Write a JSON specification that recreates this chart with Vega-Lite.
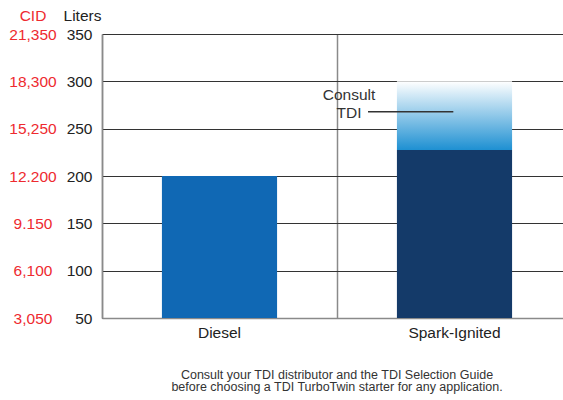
{
  "$schema": "https://vega.github.io/schema/vega-lite/v6.json",
  "width": 470,
  "height": 284,
  "autosize": {"type": "none"},
  "padding": {"left": 102, "top": 34, "right": 0, "bottom": 82},
  "config": {"font": "Liberation Sans", "view": {"stroke": null}},
  "title": {
    "text": ["Consult your TDI distributor and the TDI Selection Guide", "before choosing a TDI TurboTwin starter for any application."],
    "orient": "bottom", "anchor": "middle", "frame": "group",
    "fontSize": 12.5, "fontWeight": "normal", "color": "#333333", "lineHeight": 12.5, "offset": 28
  },
  "datasets": {
    "bars": [
      {"engine": "Diesel", "segment": "base", "low": 50, "high": 200},
      {"engine": "Spark-Ignited", "segment": "base", "low": 50, "high": 227.5},
      {"engine": "Spark-Ignited", "segment": "consult", "low": 227.5, "high": 300}
    ],
    "notes": [
      {"label": "Consult", "pos": 1.051, "val": 280.3},
      {"label": "TDI", "pos": 1.051, "val": 261.3}
    ],
    "leader": [{"from": 1.132, "to": 1.495, "val": 267.9}]
  },
  "layer": [
    {
      "data": {"name": "bars"},
      "transform": [{"filter": "datum.segment === 'base'"}],
      "mark": {"type": "bar", "width": {"band": 0.49}},
      "encoding": {
        "x": {
          "field": "engine", "type": "nominal",
          "scale": {"domain": ["Diesel", "Spark-Ignited"], "paddingInner": 0, "paddingOuter": 0},
          "axis": {
            "title": null, "labelAngle": 0, "labelFontSize": 15.5, "labelColor": "#222222", "labelPadding": 7,
            "domainColor": "#8a8a8a", "domainWidth": 1.5, "ticks": false,
            "grid": true, "gridColor": "#8a8a8a", "gridWidth": 1.5, "bandPosition": 0
          }
        },
        "y": {
          "field": "high", "type": "quantitative",
          "scale": {"domain": [50, 350], "nice": false, "zero": false},
          "axis": {
            "title": "Liters", "titleAngle": 0, "titleX": -20, "titleY": -14, "titleAlign": "center",
            "titleBaseline": "alphabetic", "titleFontSize": 15.5, "titleFontWeight": "normal", "titleColor": "#222222",
            "values": [50, 100, 150, 200, 250, 300, 350],
            "labelFontSize": 15.5, "labelColor": "#222222", "labelPadding": 10,
            "ticks": false, "tickSize": 0,
            "domainColor": "#8a8a8a", "domainWidth": 1.5,
            "grid": true, "gridColor": "#333333", "gridWidth": 1
          }
        },
        "y2": {"field": "low"},
        "color": {
          "field": "engine", "type": "nominal",
          "scale": {"domain": ["Diesel", "Spark-Ignited"], "range": ["#1068b4", "#143a69"]},
          "legend": null
        }
      }
    },
    {
      "data": {"name": "bars"},
      "transform": [{"filter": "datum.segment === 'consult'"}],
      "mark": {
        "type": "bar", "width": {"band": 0.49},
        "fill": {"gradient": "linear", "x1": 0, "y1": 0, "x2": 0, "y2": 1,
          "stops": [{"offset": 0, "color": "#ffffff"}, {"offset": 1, "color": "#1e90d2"}]}
      },
      "encoding": {
        "x": {
          "field": "engine", "type": "nominal",
          "scale": {"domain": ["Diesel", "Spark-Ignited"], "paddingInner": 0, "paddingOuter": 0},
          "axis": null
        },
        "y": {
          "field": "high", "type": "quantitative",
          "scale": {"domain": [50, 350], "nice": false, "zero": false},
          "axis": {
            "orient": "left",
            "title": "CID", "titleAngle": 0, "titleX": -69.5, "titleY": -14, "titleAlign": "center",
            "titleBaseline": "alphabetic", "titleFontSize": 15.5, "titleFontWeight": "normal", "titleColor": "#ee2a2f",
            "values": [50, 100, 150, 200, 250, 300, 350],
            "labelExpr": "datum.value == 350 ? '21,350' : datum.value == 300 ? '18,300' : datum.value == 250 ? '15,250' : datum.value == 200 ? '12.200' : datum.value == 150 ? '9.150' : datum.value == 100 ? '6,100' : '3,050'",
            "labelAlign": "center", "labelPadding": 69.5, "labelFontSize": 15.5, "labelColor": "#ee2a2f",
            "domain": false, "ticks": false, "tickSize": 0, "grid": false
          }
        },
        "y2": {"field": "low"}
      }
    },
    {
      "data": {"name": "notes"},
      "mark": {"type": "text", "align": "center", "baseline": "alphabetic", "fontSize": 15.5, "color": "#333333"},
      "encoding": {
        "x": {"field": "pos", "type": "quantitative", "scale": {"domain": [0, 2], "nice": false, "zero": false}, "axis": null},
        "y": {"field": "val", "type": "quantitative", "scale": {"domain": [50, 350], "nice": false, "zero": false}, "axis": null},
        "text": {"field": "label"}
      }
    },
    {
      "data": {"name": "leader"},
      "mark": {"type": "rule", "color": "#333333", "strokeWidth": 1.5},
      "encoding": {
        "x": {"field": "from", "type": "quantitative", "scale": {"domain": [0, 2], "nice": false, "zero": false}, "axis": null},
        "x2": {"field": "to"},
        "y": {"field": "val", "type": "quantitative", "scale": {"domain": [50, 350], "nice": false, "zero": false}, "axis": null}
      }
    }
  ],
  "resolve": {"scale": {"x": "independent", "y": "independent"}}
}
